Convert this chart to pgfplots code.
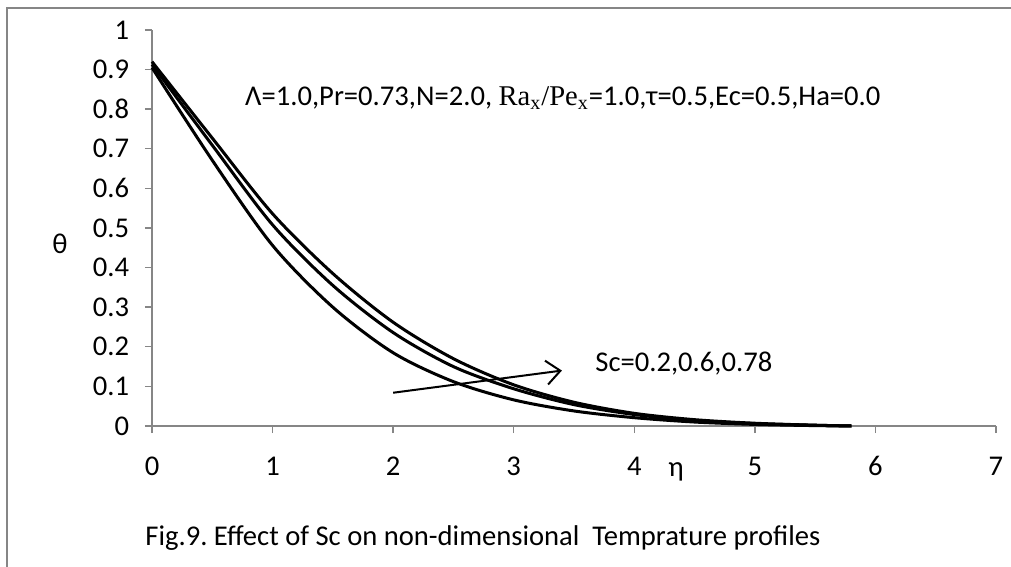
\documentclass[border=0pt]{standalone}
\usepackage{fontspec}
\setmainfont{Carlito}
\newfontfamily\seriffont{Liberation Serif}
\usepackage{pgfplots}
\pgfplotsset{compat=1.18}
\usetikzlibrary{arrows.meta}
\definecolor{axisgray}{RGB}{134,134,134}

\begin{document}
\frenchspacing
\fontsize{14.3}{17}\selectfont
\begin{tikzpicture}
\useasboundingbox (-76pt,-70.5pt) rectangle (429.5pt,213pt);
\draw[axisgray,line width=1.3pt] (-72.5pt,-80pt) -- (-72.5pt,209pt) -- (440pt,209pt);
\begin{axis}[
    at={(0,0)}, anchor=south west,
    scale only axis, width=422pt, height=198pt,
    xmin=0, xmax=7, ymin=0, ymax=1,
    axis lines=left,
    axis line style={-,axisgray,line width=0.7pt},
    tick style={axisgray,line width=0.7pt},
    tick align=outside, major tick length=3.5pt,
    xtick={0,1,2,3,4,5,6,7},
    ytick={0,0.1,0.2,0.3,0.4,0.5,0.6,0.7,0.8,0.9,1},
    yticklabels={0,0.1,0.2,0.3,0.4,0.5,0.6,0.7,0.8,0.9,1},
    /pgf/number format/assume math mode=true,
    xticklabel style={anchor=center, text height=1.4ex, text depth=0pt, yshift=-16.5pt},
    yticklabel style={xshift=-3pt},
    clip=false,
]
% Sc = 0.78
\addplot[black, line width=1.5pt, smooth] coordinates {
    (0,0.92) (0.5,0.727) (1,0.536) (1.5,0.385) (2,0.262) (2.5,0.170)
    (3,0.104) (3.5,0.060) (4,0.032) (4.5,0.016) (5,0.007) (5.5,0.002) (5.8,0)
};
% Sc = 0.6
\addplot[black, line width=1.5pt, smooth] coordinates {
    (0,0.913) (0.5,0.709) (1,0.508) (1.5,0.355) (2,0.236) (2.5,0.150)
    (3,0.094) (3.5,0.054) (4,0.029) (4.5,0.014) (5,0.006) (5.5,0.002) (5.8,0)
};
% Sc = 0.2
\addplot[black, line width=1.5pt, smooth] coordinates {
    (0,0.905) (0.5,0.671) (1,0.456) (1.5,0.300) (2,0.185) (2.5,0.112)
    (3,0.066) (3.5,0.038) (4,0.021) (4.5,0.010) (5,0.004) (5.5,0.001) (5.8,0)
};
\draw[-{Straight Barb[length=7pt,width=12pt]}, line width=1pt]
    (axis cs:2,0.084) -- (axis cs:3.40,0.14);
\node[anchor=west, inner sep=0pt] at (axis cs:0.77,0.828)
    {Λ=1.0,Pr=0.73,N=2.0, {\seriffont Ra\textsubscript{x}/Pe\textsubscript{x}}=1.0,τ=0.5,Ec=0.5,Ha=0.0};
\node[anchor=west, inner sep=0pt] at (axis cs:3.674,0.157) {Sc=0.2,0.6,0.78};
\node at (axis cs:-0.763,0.46) {θ};
\node at (axis cs:4.346,-0.116) {η};
\node[anchor=west, inner sep=0pt] at (axis cs:-0.058,-0.283)
    {Fig.9. Effect of Sc on non-dimensional\ \ Temprature profiles};
\end{axis}
\end{tikzpicture}
\end{document}
